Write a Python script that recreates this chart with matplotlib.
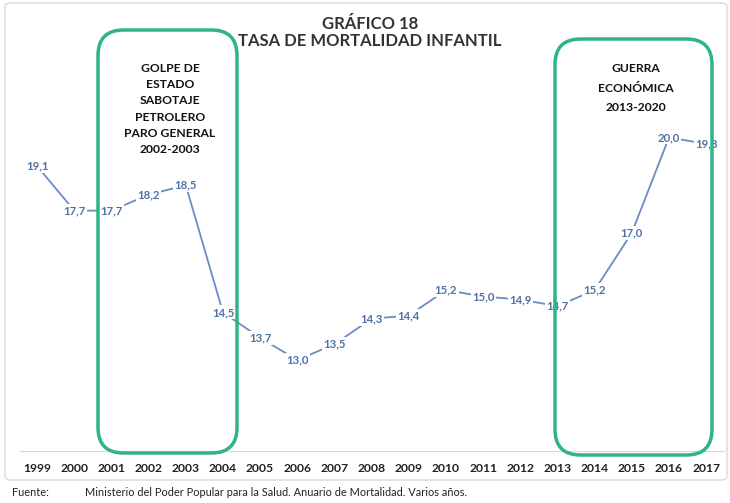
import matplotlib.pyplot as plt
from matplotlib.patches import FancyBboxPatch

years = list(range(1999, 2018))
tasa = [19.1, 17.7, 17.7, 18.2, 18.5, 14.5, 13.7, 13.0, 13.5, 14.3,
        14.4, 15.2, 15.0, 14.9, 14.7, 15.2, 17.0, 20.0, 19.8]
tick_labels = [str(y) for y in years]

titulo = "GRÁFICO 18\nTASA DE MORTALIDAD INFANTIL"
nota_1 = "GOLPE DE\nESTADO\nSABOTAJE\nPETROLERO\nPARO GENERAL\n2002-2003"
nota_2 = "GUERRA\nECONÓMICA\n2013-2020"
fuente = "Ministerio del Poder Popular para la Salud. Anuario de Mortalidad. Varios años."

plt.rcParams["font.family"] = ["Lato", "DejaVu Sans"]

W, H = 730, 503
fig = plt.figure(figsize=(W / 100, H / 100), dpi=100)


def px(x, y):
    return x / W, 1 - y / H


# marco exterior del grafico
fig.patches.append(FancyBboxPatch(px(5, 480), 722 / W, 477 / H,
                                  boxstyle="round,pad=0,rounding_size=0.008",
                                  transform=fig.transFigure, fill=False,
                                  edgecolor="#d9d9d9", linewidth=1))

ax = fig.add_axes([20 / W, 1 - 451 / H, 704 / W, 421 / H])
ax.plot(years, tasa, color="#6a8cc2", linewidth=1.3, zorder=2)
for x, v in zip(years, tasa):
    ax.text(x, v, f"{v:.1f}".replace(".", ","), ha="center", va="center",
            fontsize=8.2, fontweight="bold", color="#5070a8", zorder=3,
            bbox=dict(facecolor="white", edgecolor="none", pad=1))

ax.set_xlim(1998.54, 2017.48)
ax.set_ylim(10.14, 23.38)
ax.set_xticks(years)
ax.set_xticklabels(tick_labels, fontsize=8.7, fontweight="bold", color="#222222")
ax.tick_params(axis="x", length=0, pad=9)
ax.set_yticks([])
for s in ["top", "left", "right"]:
    ax.spines[s].set_visible(False)
ax.spines["bottom"].set_color("#d9d9d9")

fig.text(370 / W, 1 - 16 / H, titulo, ha="center", va="top", fontsize=12,
         fontweight="bold", color="#333333", linespacing=1.1)

# recuadros verdes
for (x0, y0, x1, y1) in [(98, 30, 237, 453), (555, 39, 712, 455)]:
    fig.patches.append(FancyBboxPatch(px(x0, y1), (x1 - x0) / W, (y1 - y0) / H,
                                      boxstyle="round,pad=0,rounding_size=0.035",
                                      transform=fig.transFigure, fill=False,
                                      edgecolor="#2fb38a", linewidth=2.5,
                                      zorder=5, mutation_aspect=W / H))

fig.text(170 / W, 1 - 63 / H, nota_1, ha="center", va="top", fontsize=8.7,
         fontweight="bold", color="#111111", linespacing=1.58)
fig.text(636 / W, 1 - 63 / H, nota_2, ha="center", va="top", fontsize=8.7,
         fontweight="bold", color="#111111", linespacing=1.95)

fig.text(12 / W, 1 - 492 / H, "Fuente:", ha="left", va="center", fontsize=7.9,
         color="#222222")
fig.text(85 / W, 1 - 492 / H, fuente, ha="left", va="center", fontsize=7.9,
         color="#222222")

fig.savefig("out.png", dpi=100)
